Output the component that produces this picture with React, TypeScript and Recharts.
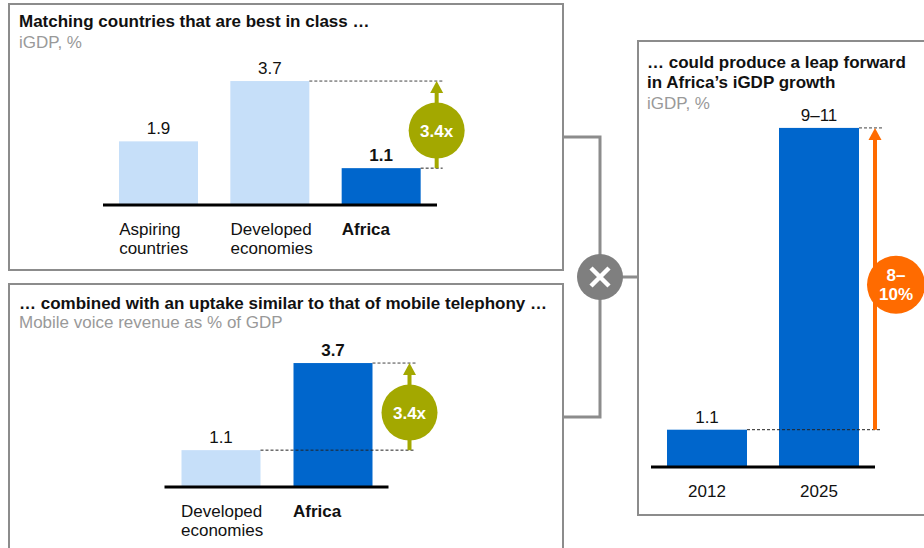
import React from 'react';
import { BarChart, Bar, XAxis, YAxis } from 'recharts';

const FONT = 'Arial, "Liberation Sans", Helvetica, sans-serif';
const LIGHT = '#c6dff9';
const DARK = '#0066cc';
const OLIVE = '#a3a800';
const ORANGE = '#ff6b00';
const BORDER = '#8c8c8c';

// best in class, iGDP %
const bestCategories = ['Aspiring\ncountries', 'Developed\neconomies', 'Africa'];
const bestValues = [1.9, 3.7, 1.1];
const bestLabels = ['1.9', '3.7', '1.1'];

// mobile voice revenue, % of GDP
const mobileCategories = ['Developed\neconomies', 'Africa'];
const mobileValues = [1.1, 3.7];
const mobileLabels = ['1.1', '3.7'];

// Africa iGDP, %
const leapCategories = ['2012', '2025'];
const leapValues = [1.1, 10];
const leapLabels = ['1.1', '9–11'];

const multipleLabel = ['3.4x'];
const leapLabel = ['8–', '10%'];

type Annotation = {
  lowIdx: number;
  highIdx: number;
  color: string;
  arrowDx: number;
  endDx: number;
  badge: string[];
  badgeDx: number;
  r: number;
};

type PanelChartProps = {
  categories: string[];
  values: number[];
  labels: string[];
  dark: number[];
  bold: number[];
  left: number;
  top: number;
  width: number;
  height: number;
  margin: { top: number; right: number; bottom: number; left: number };
  axisHeight: number;
  yMax: number;
  barSize: number;
  centerTicks: boolean;
  annotation: Annotation;
};

const PanelChart: React.FC<PanelChartProps> = (cfg) => {
  const n = cfg.values.length;
  const band = (cfg.width - cfg.margin.left - cfg.margin.right) / n;
  const data = cfg.categories.map((c, i) => ({ name: c, value: cfg.values[i] }));

  const shape = (p: any) => {
    const { x, y, width, height, index } = p;
    const a = cfg.annotation;
    let ann = null;
    if (index === n - 1) {
      const base = y + height;
      const perUnit = height / cfg.values[index];
      const yOf = (v: number) => base - v * perUnit;
      const rightOf = (i: number) => x - (n - 1 - i) * band + width;
      const right = x + width;
      const ax = right + a.arrowDx;
      const ex = right + a.endDx;
      const yLow = yOf(cfg.values[a.lowIdx]);
      const yHigh = yOf(cfg.values[a.highIdx]);
      const head = 12;
      const cy = (yHigh + head + yLow) / 2;
      const lh = 19;
      const first = cy - ((a.badge.length - 1) * lh) / 2;
      ann = (
        <g>
          <line x1={rightOf(a.highIdx)} x2={ex} y1={yHigh} y2={yHigh} stroke="#444" strokeWidth={1} strokeDasharray="3 2" />
          <line x1={rightOf(a.lowIdx)} x2={ex} y1={yLow} y2={yLow} stroke="#222" strokeWidth={1} strokeDasharray="3 2" />
          <line x1={ax} x2={ax} y1={yLow} y2={yHigh + head - 1} stroke={a.color} strokeWidth={4} />
          <polygon points={`${ax - 6.5},${yHigh + head} ${ax + 6.5},${yHigh + head} ${ax},${yHigh}`} fill={a.color} />
          <circle cx={ax + a.badgeDx} cy={cy} r={a.r} fill={a.color} />
          <text textAnchor="middle" fontSize={17} fontWeight={700} fill="#fff" fontFamily={FONT}>
            {a.badge.map((t, i) => (
              <tspan key={i} x={ax + a.badgeDx} y={first + i * lh + 6}>{t}</tspan>
            ))}
          </text>
        </g>
      );
    }
    return (
      <g>
        <rect x={x} y={y} width={width} height={height} fill={cfg.dark.includes(index) ? DARK : LIGHT} />
        <text
          x={x + width / 2}
          y={y - 7}
          textAnchor="middle"
          fontSize={17}
          fontWeight={cfg.bold.includes(index) ? 700 : 400}
          fill="#111"
          fontFamily={FONT}
        >
          {cfg.labels[index]}
        </text>
        {ann}
      </g>
    );
  };

  const tick = (p: any) => {
    const { x, y, payload } = p;
    const idx = cfg.categories.indexOf(payload.value);
    const lines = String(payload.value).split('\n');
    const tx = cfg.centerTicks ? x : x - cfg.barSize / 2;
    return (
      <text
        x={tx}
        y={y + 30}
        textAnchor={cfg.centerTicks ? 'middle' : 'start'}
        fontSize={17}
        fontWeight={cfg.bold.includes(idx) ? 700 : 400}
        fill="#111"
        fontFamily={FONT}
      >
        {lines.map((l, i) => (
          <tspan key={i} x={tx} dy={i === 0 ? 0 : 19}>{l}</tspan>
        ))}
      </text>
    );
  };

  return (
    <div style={{ position: 'absolute', left: cfg.left, top: cfg.top }}>
      <BarChart width={cfg.width} height={cfg.height} data={data} margin={cfg.margin} style={{ overflow: 'visible' }}>
        <XAxis
          dataKey="name"
          height={cfg.axisHeight}
          interval={0}
          tickLine={false}
          tickSize={0}
          tickMargin={0}
          axisLine={{ stroke: '#000', strokeWidth: 3 }}
          tick={tick}
        />
        <YAxis hide domain={[0, cfg.yMax]} />
        <Bar dataKey="value" barSize={cfg.barSize} shape={shape} isAnimationActive={false} />
      </BarChart>
    </div>
  );
};

const boxStyle = (left: number, top: number, width: number, height: number): React.CSSProperties => ({
  position: 'absolute',
  left,
  top,
  width,
  height,
  border: `2px solid ${BORDER}`,
  boxSizing: 'border-box',
});

const textStyle = (left: number, top: number, bold: boolean): React.CSSProperties => ({
  position: 'absolute',
  left,
  top,
  fontFamily: FONT,
  fontSize: 17,
  lineHeight: '20px',
  fontWeight: bold ? 700 : 400,
  color: bold ? '#111' : '#999',
  whiteSpace: 'nowrap',
});

export default function App() {
  return (
    <div style={{ position: 'absolute', left: 0, top: 0, width: 924, height: 548, overflow: 'hidden', background: '#fff' }}>
      <div style={boxStyle(8, 3, 556, 268)} />
      <div style={boxStyle(8, 283, 556, 290)} />
      <div style={boxStyle(637, 40, 300, 476)} />

      <svg width={924} height={548} style={{ position: 'absolute', left: 0, top: 0 }}>
        <path d="M563,137 H600 V417 H563 M600,277 H637" fill="none" stroke={BORDER} strokeWidth={3} />
        <circle cx={600} cy={277} r={23} fill="#7f7f7f" />
        <path d="M591,268 L609,286 M609,268 L591,286" stroke="#fff" strokeWidth={4.5} />
      </svg>

      <div style={textStyle(19, 12, true)}>Matching countries that are best in class …</div>
      <div style={textStyle(19, 33, false)}>iGDP, %</div>
      <div style={textStyle(19, 294, true)}>… combined with an uptake similar to that of mobile telephony …</div>
      <div style={textStyle(19, 313, false)}>Mobile voice revenue as % of GDP</div>
      <div style={textStyle(647, 53, true)}>… could produce a leap forward</div>
      <div style={textStyle(647, 73, true)}>in Africa’s iGDP growth</div>
      <div style={textStyle(647, 94, false)}>iGDP, %</div>

      <PanelChart
        categories={bestCategories}
        values={bestValues}
        labels={bestLabels}
        dark={[2]}
        bold={[2]}
        left={0}
        top={0}
        width={563}
        height={270}
        margin={{ top: 71, right: 126, bottom: 5, left: 103 }}
        axisHeight={60}
        yMax={4}
        barSize={79}
        centerTicks={false}
        annotation={{ lowIdx: 2, highIdx: 1, color: OLIVE, arrowDx: 16, endDx: 22, badge: multipleLabel, badgeDx: 0, r: 28 }}
      />
      <PanelChart
        categories={mobileCategories}
        values={mobileValues}
        labels={mobileLabels}
        dark={[1]}
        bold={[1]}
        left={0}
        top={283}
        width={563}
        height={265}
        margin={{ top: 70, right: 174.5, bottom: 5, left: 164.5 }}
        axisHeight={56}
        yMax={4}
        barSize={79}
        centerTicks={false}
        annotation={{ lowIdx: 0, highIdx: 1, color: OLIVE, arrowDx: 37, endDx: 43, badge: multipleLabel, badgeDx: 0, r: 28 }}
      />
      <PanelChart
        categories={leapCategories}
        values={leapValues}
        labels={leapLabels}
        dark={[0, 1]}
        bold={[]}
        left={637}
        top={40}
        width={287}
        height={475}
        margin={{ top: 54, right: 49, bottom: 5, left: 14 }}
        axisHeight={43}
        yMax={11}
        barSize={80}
        centerTicks={true}
        annotation={{ lowIdx: 0, highIdx: 1, color: ORANGE, arrowDx: 16, endDx: 23, badge: leapLabel, badgeDx: 21, r: 29 }}
      />
    </div>
  );
}
